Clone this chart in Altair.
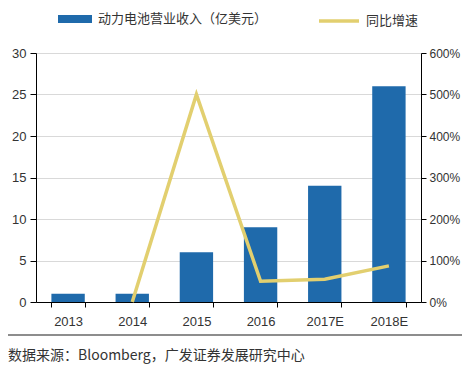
import altair as alt
import pandas as pd

years = ["2013", "2014", "2015", "2016", "2017E", "2018E"]
revenue = [1, 1, 6, 9, 14, 26]
growth = [None, 0.0, 5.0, 0.5, 0.55, 0.87]
bar_name = "动力电池营业收入（亿美元）"
line_name = "同比增速"
source_note = "数据来源：Bloomberg，广发证券发展研究中心"

df = pd.DataFrame({
    "year": years,
    "revenue": revenue,
    "growth": growth,
    "s1": [bar_name] * len(years),
    "s2": [line_name] * len(years),
})

BLUE = "#1f6aab"
YELLOW = "#e2cf6f"
FONT = "Liberation Sans"
CJK = "Noto Sans CJK SC"

x_enc = alt.X(
    "year:N", sort=years, title=None,
    scale=alt.Scale(paddingInner=0.48, paddingOuter=0.24),
    axis=alt.Axis(labelAngle=0, tickBand="extent", domainColor="#000", tickColor="#000",
                  labelFont=FONT, labelFontSize=13, labelColor="#333", labelPadding=8,
                  tickSize=5, grid=False),
)

bars = alt.Chart(df).mark_bar().encode(
    x=x_enc,
    y=alt.Y("revenue:Q", title=None,
            scale=alt.Scale(domain=[0, 30], nice=False),
            axis=alt.Axis(values=[0, 5, 10, 15, 20, 25, 30], grid=True, gridColor="#d9d9d9",
                          domainColor="#000", tickColor="#000", tickSize=6,
                          labelFont=FONT, labelFontSize=13, labelColor="#333", labelPadding=4)),
    fill=alt.Fill("s1:N", scale=alt.Scale(range=[BLUE]),
                  legend=alt.Legend(title=None, orient="none", legendX=22, legendY=-51,
                                    symbolType="M-1,-0.235H1V0.235H-1Z", symbolSize=1156,
                                    symbolStrokeWidth=0, labelFont=CJK, labelFontSize=13,
                                    labelColor="#333", labelOffset=6, padding=0,
                                    labelLimit=400)),
)

line = alt.Chart(df).transform_filter("datum.growth != null").mark_line(strokeWidth=3.5).encode(
    x=x_enc,
    y=alt.Y("growth:Q", title=None,
            scale=alt.Scale(domain=[0, 6], nice=False),
            axis=alt.Axis(orient="right", values=[0, 1, 2, 3, 4, 5, 6], format=".0%", grid=False,
                          domainColor="#000", tickColor="#000", tickSize=5,
                          labelFont=FONT, labelFontSize=12, labelColor="#333", labelPadding=3)),
    stroke=alt.Stroke("s2:N", scale=alt.Scale(range=[YELLOW]),
                      legend=alt.Legend(title=None, orient="none", legendX=281, legendY=-54,
                                        symbolType="stroke", symbolSize=1600,
                                        symbolStrokeWidth=3.5, labelFont=CJK, labelFontSize=13,
                                        labelColor="#333", labelOffset=5, padding=0,
                                        labelLimit=200)),
)

sep = alt.Chart(df).mark_rule(color="#8c8c8c", strokeWidth=1.2).encode(
    x=alt.value(-28), x2=alt.value(426), y=alt.value(282)
)

note = alt.Chart(pd.DataFrame({"t": [source_note]})).mark_text(
    align="left", baseline="middle", font=CJK, fontSize=14, color="#333"
).encode(text="t:N", x=alt.value(-28), y=alt.value(303))

chart = alt.layer(bars, line, sep, note).resolve_scale(
    y="independent", fill="independent", stroke="independent"
).properties(
    width=385, height=249,
    autosize=alt.AutoSizeParams(type="none"),
    padding={"left": 28, "top": 45, "right": 41, "bottom": 73},
).configure_view(stroke=None).configure(background="#ffffff")

chart.save("out.html", embed_options={"renderer": "svg", "actions": False})
